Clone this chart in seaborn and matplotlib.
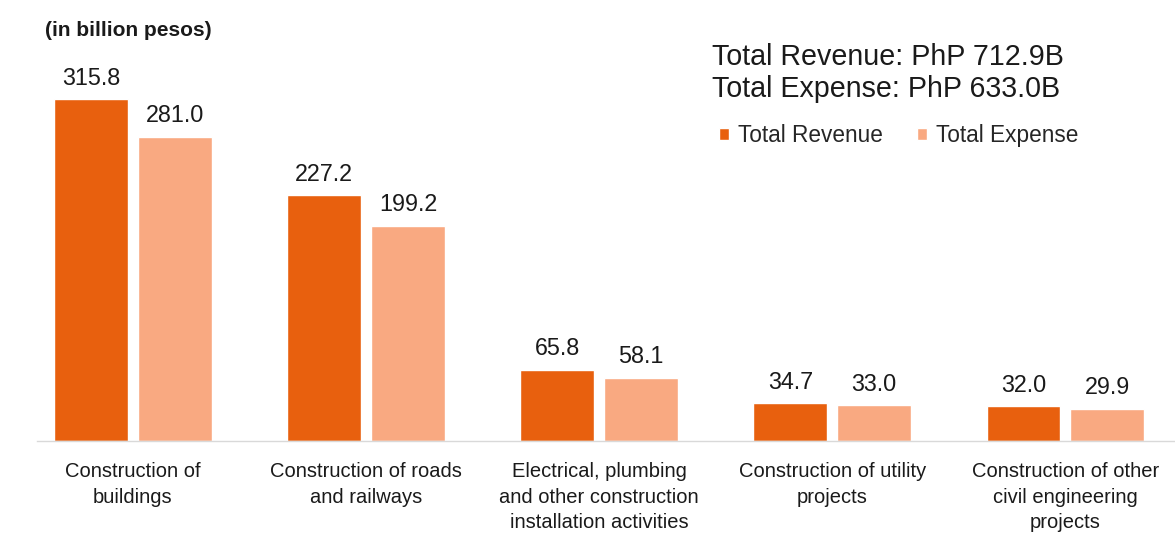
import pandas as pd
import matplotlib
matplotlib.use("Agg")
import matplotlib.pyplot as plt
import seaborn as sns

categories = [
    "Construction of\nbuildings",
    "Construction of roads\nand railways",
    "Electrical, plumbing\nand other construction\ninstallation activities",
    "Construction of utility\nprojects",
    "Construction of other\ncivil engineering\nprojects",
]
revenue = [315.8, 227.2, 65.8, 34.7, 32.0]
expense = [281.0, 199.2, 58.1, 33.0, 29.9]
series = ["Total Revenue", "Total Expense"]
colors = ["#E8600E", "#F9A981"]

df = pd.DataFrame({
    "category": categories * 2,
    "series": [series[0]] * len(categories) + [series[1]] * len(categories),
    "value": revenue + expense,
})

sns.set_style("white")
plt.rcParams["font.family"] = ["Liberation Sans", "DejaVu Sans"]
text_color = "#1a1a1a"

fig = plt.figure(figsize=(11.75, 5.33), dpi=100)
ax = fig.add_axes([0.0, 0.1726, 1.0, 0.690])

sns.barplot(data=df, x="category", y="value", hue="series", order=categories,
            hue_order=series, palette=colors, width=0.72, gap=0.12,
            saturation=1, ax=ax)

for cont in ax.containers:
    ax.bar_label(cont, fmt="%.1f", padding=7, fontsize=16.8, color=text_color)

ax.set_xlim(-0.57, 4.47)
ax.set_ylim(0, 340)
ax.set_xlabel("")
ax.set_ylabel("")
ax.set_yticks([])
ax.tick_params(axis="x", length=0, pad=15, labelsize=14.5, colors=text_color)
for lbl in ax.get_xticklabels():
    lbl.set_linespacing(1.45)
    lbl.set_verticalalignment("top")

for s in ["left", "right", "top"]:
    ax.spines[s].set_visible(False)
ax.spines["bottom"].set_color("#d9d9d9")
ax.spines["bottom"].set_linewidth(1.0)
ax.spines["bottom"].set_bounds(-0.41, 4.47)

handles, labels = ax.get_legend_handles_labels()
ax.legend(handles, labels, loc="upper left", bbox_to_anchor=(719 / 1175, 1 - 124 / 533),
          bbox_transform=fig.transFigure, ncol=2, frameon=False, fontsize=16.3,
          handlelength=0.45, handleheight=0.45, handletextpad=0.4,
          columnspacing=1.5, borderaxespad=0, borderpad=0)

fig.text(45 / 1175, 1 - 30 / 533, "(in billion pesos)", fontsize=15,
         fontweight="bold", color=text_color, va="center", ha="left")
fig.text(712 / 1175, 1 - 57 / 533, "Total Revenue: PhP 712.9B", fontsize=20.6,
         color=text_color, va="center", ha="left")
fig.text(712 / 1175, 1 - 89 / 533, "Total Expense: PhP 633.0B", fontsize=20.6,
         color=text_color, va="center", ha="left")

fig.savefig("out.png", dpi=100)
